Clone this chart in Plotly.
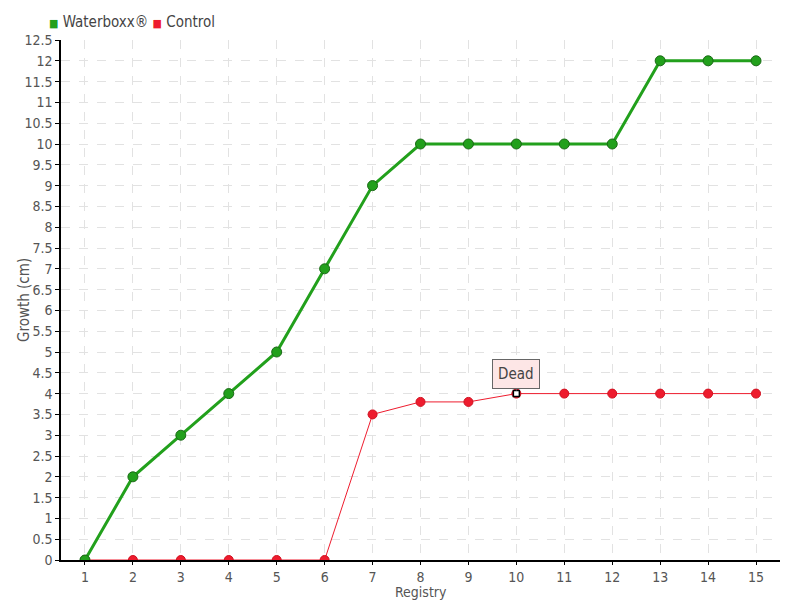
import plotly.graph_objects as go

registry = list(range(1, 16))
waterboxx = [0, 2, 3, 4, 5, 7, 9, 10, 10, 10, 10, 10, 12, 12, 12]
control = [0, 0, 0, 0, 0, 0, 3.5, 3.8, 3.8, 4, 4, 4, 4, 4, 4]
dead_x = 10
dead_y = 4

FONT = "Liberation Sans Narrow, DejaVu Sans Condensed, sans-serif"
GREEN = "#22a01c"
RED = "#ee1c2e"

fig = go.Figure()

fig.add_trace(go.Scatter(
    x=registry, y=control, mode="lines+markers", showlegend=False,
    line=dict(color=RED, width=1),
    marker=dict(color=RED, size=9, line=dict(color="#d0101f", width=1)),
    hoverinfo="skip",
))
fig.add_trace(go.Scatter(
    x=registry, y=waterboxx, mode="lines+markers", showlegend=False,
    line=dict(color=GREEN, width=3),
    marker=dict(color=GREEN, size=10, line=dict(color="#1a6a16", width=1)),
    hoverinfo="skip",
))
fig.add_trace(go.Scatter(
    x=[dead_x], y=[dead_y], mode="markers", showlegend=False,
    marker=dict(symbol="square", color="white", size=6, line=dict(color="black", width=1.5)),
    hoverinfo="skip",
))

# legend drawn as text so the items sit close together
fig.add_annotation(
    xref="paper", yref="paper", x=-0.02, y=1.0, yshift=18,
    xanchor="left", yanchor="middle", showarrow=False,
    text=f"<span style='color:{GREEN}; font-size:11px'>■</span> Waterboxx® "
         f"<span style='color:{RED}; font-size:11px'>■</span> Control",
    font=dict(family=FONT, size=15, color="#444"),
)

# axis titles as annotations (placed closer than plotly would put them)
fig.add_annotation(
    xref="paper", yref="paper", x=0.5, y=0, yshift=-32,
    xanchor="center", yanchor="middle", showarrow=False,
    text="Registry", font=dict(family=FONT, size=14, color="#555"),
)
fig.add_annotation(
    xref="paper", yref="paper", x=0, y=0.5, xshift=-37,
    xanchor="center", yanchor="middle", showarrow=False, textangle=-90,
    text="Growth (cm)", font=dict(family=FONT, size=15, color="#555"),
)

fig.add_annotation(
    x=dead_x, y=dead_y, text="Dead", showarrow=True, arrowhead=0,
    arrowcolor="#666", arrowwidth=1, ax=0, ay=-20, standoff=3,
    bgcolor="#fde6e6", bordercolor="#666", borderwidth=1, borderpad=5,
    font=dict(family=FONT, size=15, color="#444"),
)

# the page body adds 8px, so margins are shifted to keep the plot in place
fig.update_layout(
    width=800, height=600,
    margin=dict(l=53, r=28, t=32, b=48, autoexpand=False),
    paper_bgcolor="white", plot_bgcolor="white",
    font=dict(family=FONT, size=14, color="#555"),
    showlegend=False,
    xaxis=dict(
        range=[0.5, 15.5], tickvals=registry, ticktext=[str(v) for v in registry],
        showline=True, linecolor="black", linewidth=1.5,
        ticks="outside", ticklen=3, tickcolor="black", automargin=False,
        showgrid=True, gridcolor="#e2e2e2", griddash="dash", zeroline=False,
    ),
    yaxis=dict(
        range=[0, 12.5], dtick=0.5,
        showline=True, linecolor="black", linewidth=1.5,
        ticks="outside", ticklen=4, tickcolor="black", automargin=False,
        showgrid=True, gridcolor="#e2e2e2", griddash="dash", zeroline=False,
    ),
)

fig.write_html("out.html")
